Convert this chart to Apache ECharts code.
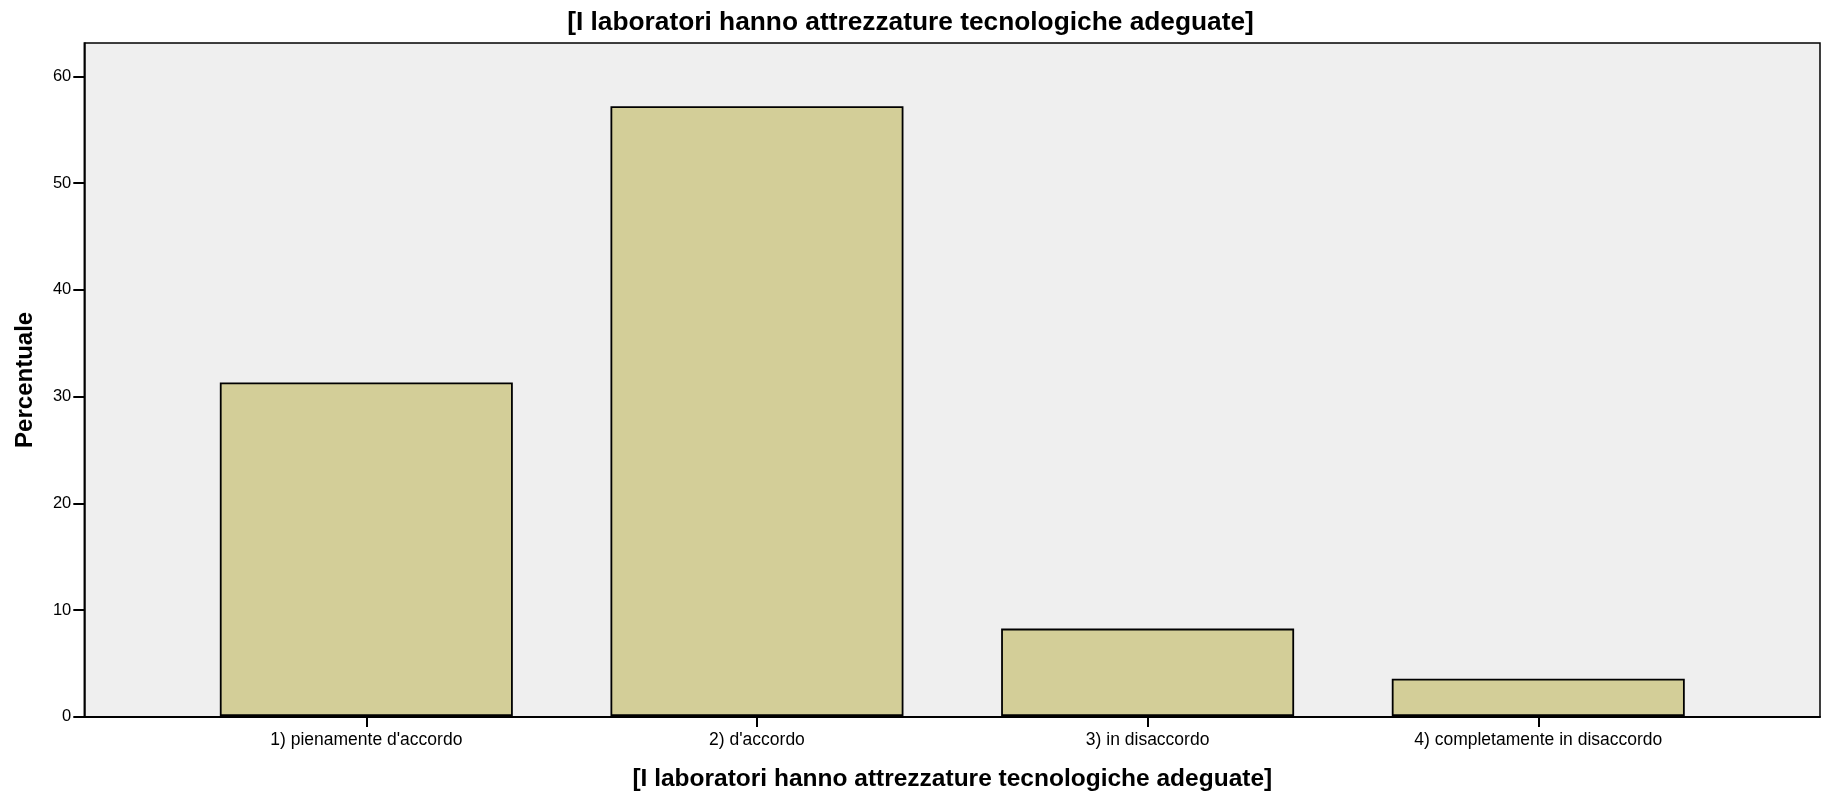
<!DOCTYPE html>
<html style="height: 100%">
<head>
<meta charset="utf-8">
<title>Laboratori</title>
<script src="https://cdn.jsdelivr.net/npm/echarts@6/dist/echarts.min.js"></script>
</head>
<body style="height: 100%; margin: 0; background: #fff">
<div id="main" style="width: 1821px; height: 797px"></div>
<script type="text/javascript">
// dati
var categorie = ['1) pienamente d\'accordo', '2) d\'accordo', '3) in disaccordo', '4) completamente in disaccordo'];
var percentuali = [31.3, 57.2, 8.2, 3.5];
var tickY = [0, 10, 20, 30, 40, 50, 60];
var titolo = '[I laboratori hanno attrezzature tecnologiche adeguate]';

var font = 'Arial, "Liberation Sans", sans-serif';
var yMax = 63.14;
var myChart = echarts.init(document.getElementById('main'));

var option = {
	backgroundColor: '#ffffff',
	animation: false,
	title: {
		text: titolo,
		left: 'center',
		top: 5,
		textStyle: { fontFamily: font, fontSize: 26.3, fontWeight: 'bold', color: '#000' }
	},
	grid: [
		// riquadro del grafico
		{ left: 84.3, right: 1, top: 43, bottom: 80.3, show: true, backgroundColor: '#efefef', borderColor: '#000', borderWidth: 1.5 },
		// area delle barre
		{ left: 171, right: 87.4, top: 43, bottom: 80.3 }
	],
	xAxis: [
		{
			gridIndex: 0, type: 'category', data: [''],
			axisLine: { show: true, lineStyle: { color: '#000', width: 2 } },
			axisTick: { show: false }, axisLabel: { show: false }
		},
		{
			gridIndex: 1, type: 'category', data: categorie,
			name: titolo, nameLocation: 'middle', nameGap: 51,
			nameTextStyle: { fontFamily: font, fontSize: 24.5, fontWeight: 'bold', color: '#000' },
			axisLine: { show: false },
			axisTick: { show: true, alignWithLabel: true, length: 11, lineStyle: { color: '#000', width: 2 } },
			axisLabel: { fontFamily: font, fontSize: 17.5, color: '#000', margin: 15 }
		}
	],
	yAxis: [
		{
			gridIndex: 0, type: 'value', min: 0, max: yMax,
			name: 'Percentuale', nameLocation: 'middle', nameGap: 47,
			nameTextStyle: { fontFamily: font, fontSize: 24, fontWeight: 'bold', color: '#000' },
			axisLine: { show: true, lineStyle: { color: '#000', width: 1.5 } },
			axisTick: { show: true, length: 11, customValues: tickY, lineStyle: { color: '#000', width: 2 } },
			axisLabel: { fontFamily: font, fontSize: 16.5, color: '#000', margin: 13, customValues: tickY },
			splitLine: { show: false }
		},
		{
			gridIndex: 1, type: 'value', min: 0, max: yMax, show: false,
			splitLine: { show: false }
		}
	],
	series: [{
		type: 'bar',
		xAxisIndex: 1,
		yAxisIndex: 1,
		data: percentuali,
		barWidth: 293,
		itemStyle: { color: '#d3ce98', borderColor: '#000', borderWidth: 1.8 }
	}]
};
myChart.setOption(option);
</script>
</body>
</html>
